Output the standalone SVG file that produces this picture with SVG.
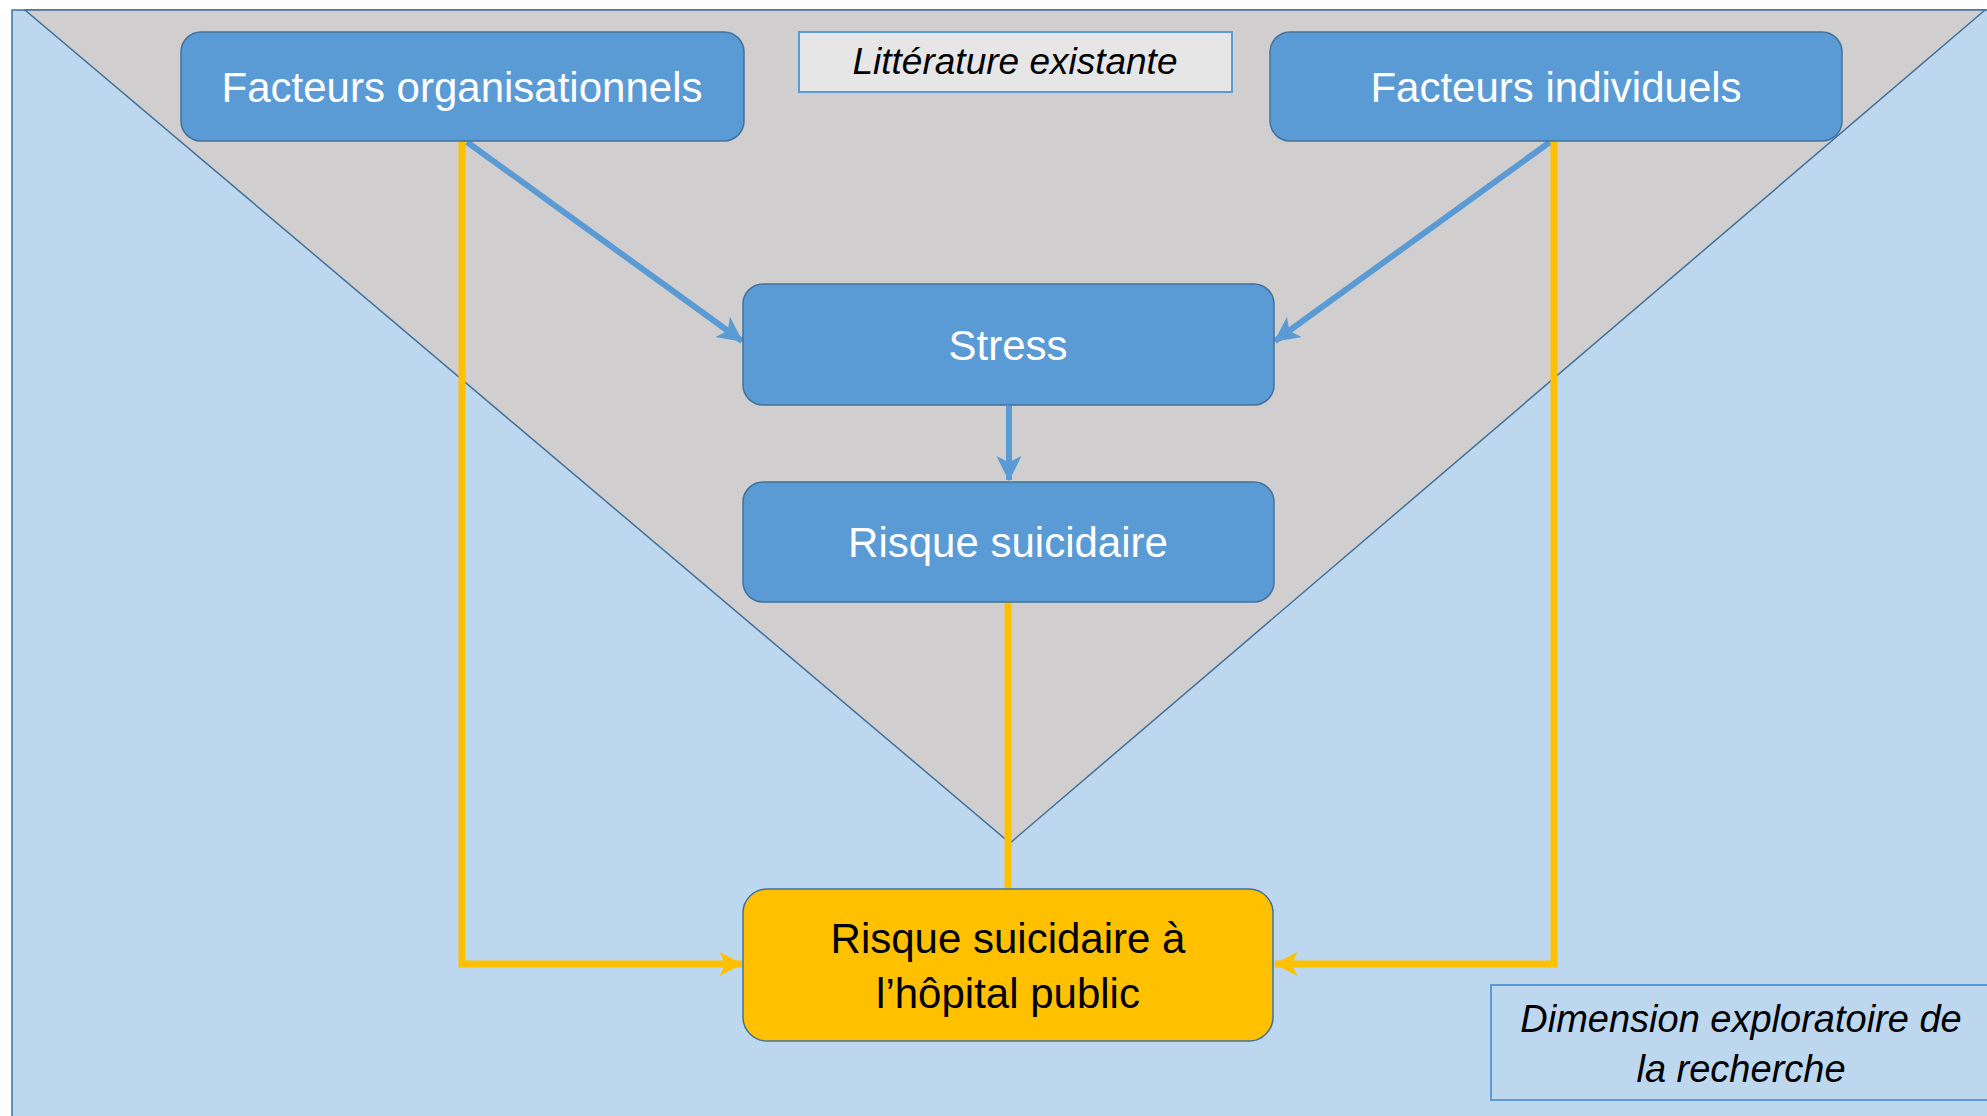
<svg xmlns="http://www.w3.org/2000/svg" width="1987" height="1116" viewBox="0 0 1987 1116">
  <style>
    .node { fill: #5B9BD5; stroke: #41719C; stroke-width: 1.5; }
    .ntext { font-family: "Liberation Sans", Arial, sans-serif; font-size: 42px; fill: #FFFFFF; text-anchor: middle; }
    .note { font-family: "Liberation Sans", Arial, sans-serif; font-style: italic; fill: #000000; text-anchor: middle; }
    .blue { stroke: #5B9BD5; stroke-width: 6; fill: none; }
    .yellow { stroke: #FFC000; stroke-width: 7; fill: none; }
  </style>
  <defs>
    <marker id="ab" viewBox="0 0 10 10" refX="9.5" refY="5" markerWidth="4.2" markerHeight="4.2" orient="auto" markerUnits="strokeWidth">
      <path d="M0,0 L10,5 L0,10 L2.5,5 Z" fill="#5B9BD5"/>
    </marker>
    <marker id="ay" viewBox="0 0 10 10" refX="9.5" refY="5" markerWidth="3.6" markerHeight="3.4" orient="auto" markerUnits="strokeWidth">
      <path d="M0,0 L10,5 L0,10 L2.5,5 Z" fill="#FFC000"/>
    </marker>
  </defs>
  <rect x="0" y="0" width="1987" height="1116" fill="#FFFFFF"/>
  <g id="background">
    <rect x="12" y="10" width="1990" height="1120" fill="#BDD7EE" stroke="#41719C" stroke-width="1.5"/>
    <polygon points="25,10 1985,10 1010,843" fill="#D0CECE" stroke="#41719C" stroke-width="1.5"/>
  </g>
  <g id="connectors">
    <line class="blue" x1="467" y1="142" x2="742" y2="341" marker-end="url(#ab)"/>
    <line class="blue" x1="1550" y1="142" x2="1275" y2="341" marker-end="url(#ab)"/>
    <line class="blue" x1="1009" y1="406" x2="1009" y2="480" marker-end="url(#ab)"/>
    <polyline class="yellow" points="462,141 462,964 742,964" marker-end="url(#ay)"/>
    <polyline class="yellow" points="1554,141 1554,964 1275,964" marker-end="url(#ay)"/>
    <line class="yellow" x1="1008" y1="602" x2="1008" y2="889"/>
  </g>
  <g id="node-litterature">
    <rect x="799" y="32" width="433" height="60" fill="#E7E6E6" stroke="#5B9BD5" stroke-width="2"/>
    <text class="note" x="1015" y="74" font-size="37">Littérature existante</text>
  </g>
  <g id="node-facteurs-org">
    <rect class="node" x="181" y="32" width="563" height="109" rx="20"/>
    <text class="ntext" x="462" y="102">Facteurs organisationnels</text>
  </g>
  <g id="node-facteurs-ind">
    <rect class="node" x="1270" y="32" width="572" height="109" rx="20"/>
    <text class="ntext" x="1556" y="102">Facteurs individuels</text>
  </g>
  <g id="node-stress">
    <rect class="node" x="743" y="284" width="531" height="121" rx="20"/>
    <text class="ntext" x="1008" y="360">Stress</text>
  </g>
  <g id="node-risque">
    <rect class="node" x="743" y="482" width="531" height="120" rx="20"/>
    <text class="ntext" x="1008" y="557">Risque suicidaire</text>
  </g>
  <g id="node-hopital">
    <rect x="743" y="889" width="530" height="152" rx="24" fill="#FFC000" stroke="#41719C" stroke-width="1.5"/>
    <text class="ntext" x="1008" y="953" style="fill:#000000">Risque suicidaire à</text>
    <text class="ntext" x="1008" y="1008" style="fill:#000000">l’hôpital public</text>
  </g>
  <g id="node-dimension">
    <rect x="1491" y="985" width="510" height="115" fill="#BDD7EE" stroke="#5B9BD5" stroke-width="2"/>
    <text class="note" x="1741" y="1032" font-size="38">Dimension exploratoire de</text>
    <text class="note" x="1741" y="1082" font-size="38">la recherche</text>
  </g>
</svg>
